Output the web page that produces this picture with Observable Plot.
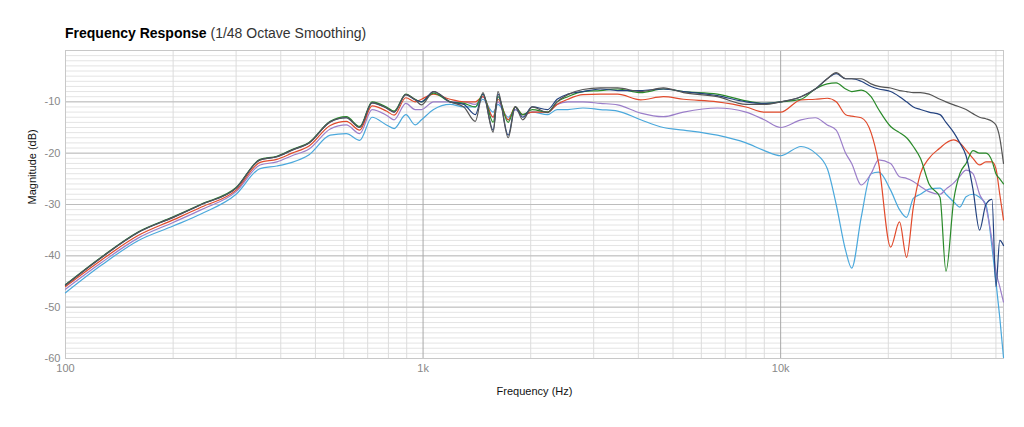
<!DOCTYPE html>
<html><head><meta charset="utf-8">
<script src="https://cdn.jsdelivr.net/npm/d3@7"></script>
<script src="https://cdn.jsdelivr.net/npm/@observablehq/plot@0.6"></script>
<style>
body{margin:0;background:#fff;font-family:"Liberation Sans",Arial,sans-serif;}
#title{height:45px;box-sizing:border-box;padding:25px 0 0 65px;font-size:14px;color:#000;}
</style></head><body>
<div id="title"><span style="font-weight:600">Frequency Response</span> <span style="color:#333">(1/48 Octave Smoothing)</span></div>
<div id="chart"></div>
<script>
const freqs = [100,125,160,200,240,300,350,390,430,480,550,610,665,720,790,830,895,950,
 990,1070,1190,1300,1400,1470,1570,1620,1730,1810,1900,2020,2230,2370,2540,2800,3130,3500,4060,4700,5350,6650,8000,9000,
 10000,11400,12500,13500,14300,15200,15800,16800,17900,18800,20300,21500,22500,23500,24600,26000,27900,29000,30500,31700,33000,34500,36000,37500,39000,40000,41000,42000];
const gray = [-45.7,-40.5,-35.4,-32.5,-30,-26.8,-21.3,-20.7,-19.4,-18,-13.9,-13.1,-15,-10.2,-11.2,-12,-8.6,-9.6,
 -10.6,-8,-10,-11,-13.8,-8.2,-15.9,-8,-17,-11,-13.5,-11,-12.1,-10,-8.6,-7.6,-7.3,-7.3,-8,-7.3,-8.2,-9,-10.5,-10.5,
 -10,-9,-7.5,-5.5,-4.3,-5.5,-5.5,-5.5,-6.5,-7,-7.3,-7.8,-8,-8.2,-8.2,-8.5,-9.5,-10,-10.6,-11,-11.5,-12.3,-13,-13.3,-13.8,-14.5,-17,-22];
const navy = [-45.7,-40.5,-35.4,-32.5,-30,-26.8,-21.3,-20.7,-19.4,-18,-13.9,-13.1,-15,-10.2,-11.2,-12,-8.6,-9.6,
 -10,-8,-10,-10.5,-12.5,-8.5,-15.5,-8.5,-16.5,-11,-13,-11,-11.5,-9.5,-8.5,-8,-7.5,-7.8,-7.8,-7.5,-8,-8.8,-10,-10.3,
 -10,-9,-7.5,-5.5,-4.5,-5.5,-5.5,-6,-7,-7.5,-8,-9,-10,-11,-11.5,-12,-12.5,-14,-16,-18,-20.5,-27,-35,-30,-29,-46,-37,-38];
const green = [-45.6,-40.4,-35.3,-32.4,-29.9,-26.7,-21.2,-20.6,-19.3,-17.9,-13.8,-12.9,-14.8,-10,-11,-11.8,-8.5,-9.5,
 -10,-8.3,-10,-10.3,-11,-8.5,-14,-9,-14,-11,-12.5,-11.5,-12,-10,-9,-8,-7.8,-7.5,-8.2,-7.5,-8,-8.5,-9.8,-10.3,
 -10,-9.5,-7.5,-6.5,-6.3,-7.5,-8,-7.7,-9,-11.5,-14.8,-16,-17,-18.7,-21,-26,-28.6,-43,-29,-24,-22,-19.5,-20,-20,-21.5,-24,-25,-26];
const red = [-46,-41,-36,-33,-30.5,-27.2,-21.8,-21.2,-20,-18.6,-14.6,-13.8,-15.5,-10.8,-11.8,-12.6,-9.2,-10,
 -9.5,-8.5,-9.5,-10,-10,-9,-13,-9.5,-13.5,-11,-12.5,-12,-12,-10.5,-9.5,-8.6,-8.5,-8.5,-9.6,-9,-9.5,-10,-11,-12,
 -12,-9.6,-9.5,-9.3,-10,-12.5,-12.8,-13.1,-16,-22,-38.3,-33.4,-40.3,-30.5,-24,-21,-19,-18,-17.4,-18,-19.4,-21,-22.3,-21.7,-21.7,-23,-28,-33];
const purple = [-46.5,-41.5,-36.5,-33.5,-31,-27.5,-22.3,-21.7,-20.5,-19.2,-15.3,-14.5,-16.2,-11.5,-12.6,-13.5,-10.3,-11.5,
 -11.5,-10,-10,-10,-10.5,-9,-13,-10,-13.5,-11.5,-12.5,-12,-12,-10.5,-10,-10,-10.3,-10.6,-12.2,-12.9,-12,-11.2,-12,-13.5,
 -15,-13.5,-13.1,-14.5,-15.5,-20,-22,-26.2,-24,-21.3,-22,-24.6,-24.9,-25.5,-26.5,-27.5,-28,-27,-25.8,-24.5,-23.3,-24,-28,-30.5,-37,-43,-46,-49];
const blue = [-47.2,-42,-37,-34.2,-31.8,-28,-23,-22.5,-21.8,-20.3,-16.5,-16.2,-17.5,-13,-14.5,-15.2,-12.5,-14.5,
 -13.5,-11.5,-10.5,-11,-11,-9.5,-12,-10.5,-13,-11.5,-12.5,-12,-12.5,-11.5,-11.5,-11.2,-11.5,-11.8,-13.5,-15,-15.5,-16.5,-18,-19.5,
 -20.5,-18.7,-20,-23,-30,-39,-42.4,-32.5,-24,-23.7,-27.2,-31,-32.5,-28.8,-28,-27,-26.8,-28,-29.5,-30.5,-28.5,-28,-28.6,-30,-38.3,-45,-52,-59.8];
const seriesList = [["s6",blue,"#4aa8dc"],["s5",purple,"#9b7ec9"],["s4",red,"#e14a2b"],["s3",green,"#2a8a2a"],["s2",navy,"#23427f"],["s1",gray,"#555555"]];
const xMajor = [100,1000,10000];
const xTickLabels = ["100","1k","10k"];
const yTicks = [-10,-20,-30,-40,-50,-60];

const xMinor = [];
for (const d of [100,1000,10000]) for (let k=2;k<=9;k++) if (d*k<=42000) xMinor.push(d*k);
const yMinor = d3.range(-59,0,1);
const rows = [];
for (const [name, vals] of seriesList) vals.forEach((v,i)=>rows.push({name, f:freqs[i], db:v}));

const chart = Plot.plot({
  width:1024, height:382, marginLeft:65, marginRight:21, marginTop:5, marginBottom:69,
  style:{fontFamily:"Liberation Sans, Arial, sans-serif", fontSize:"11px"},
  x:{type:"log", domain:[100,42000]},
  y:{domain:[-60,0]},
  color:{domain:seriesList.map(s=>s[0]), range:seriesList.map(s=>s[2])},
  marks:[
    Plot.ruleY(yMinor,{stroke:"#e4e4e4",strokeWidth:1}),
    Plot.ruleX(xMinor,{stroke:"#dcdcdc",strokeWidth:1}),
    Plot.ruleY(yTicks,{stroke:"#bdbdbd",strokeWidth:1}),
    Plot.ruleX(xMajor,{stroke:"#a8a8a8",strokeWidth:1}),
    Plot.frame({stroke:"#c8c8c8"}),
    Plot.line(rows,{x:"f",y:"db",z:"name",stroke:"name",strokeWidth:1.2,curve:"monotone-x"}),
    Plot.axisX({ticks:xMajor,tickFormat:(d)=>xTickLabels[xMajor.indexOf(d)],tickSize:0,tickPadding:6,fill:"#888",label:null}),
    Plot.axisY({ticks:yTicks,tickFormat:d=>String(d),tickSize:0,tickPadding:5,fill:"#888",label:null}),
    Plot.text(["Frequency (Hz)"],{frameAnchor:"bottom",dy:36,fill:"#111",fontSize:11}),
    Plot.text(["Magnitude (dB)"],{frameAnchor:"left",dx:-33,rotate:-90,fill:"#111",fontSize:11})
  ]
});
document.getElementById("chart").appendChild(chart);
</script></body></html>
